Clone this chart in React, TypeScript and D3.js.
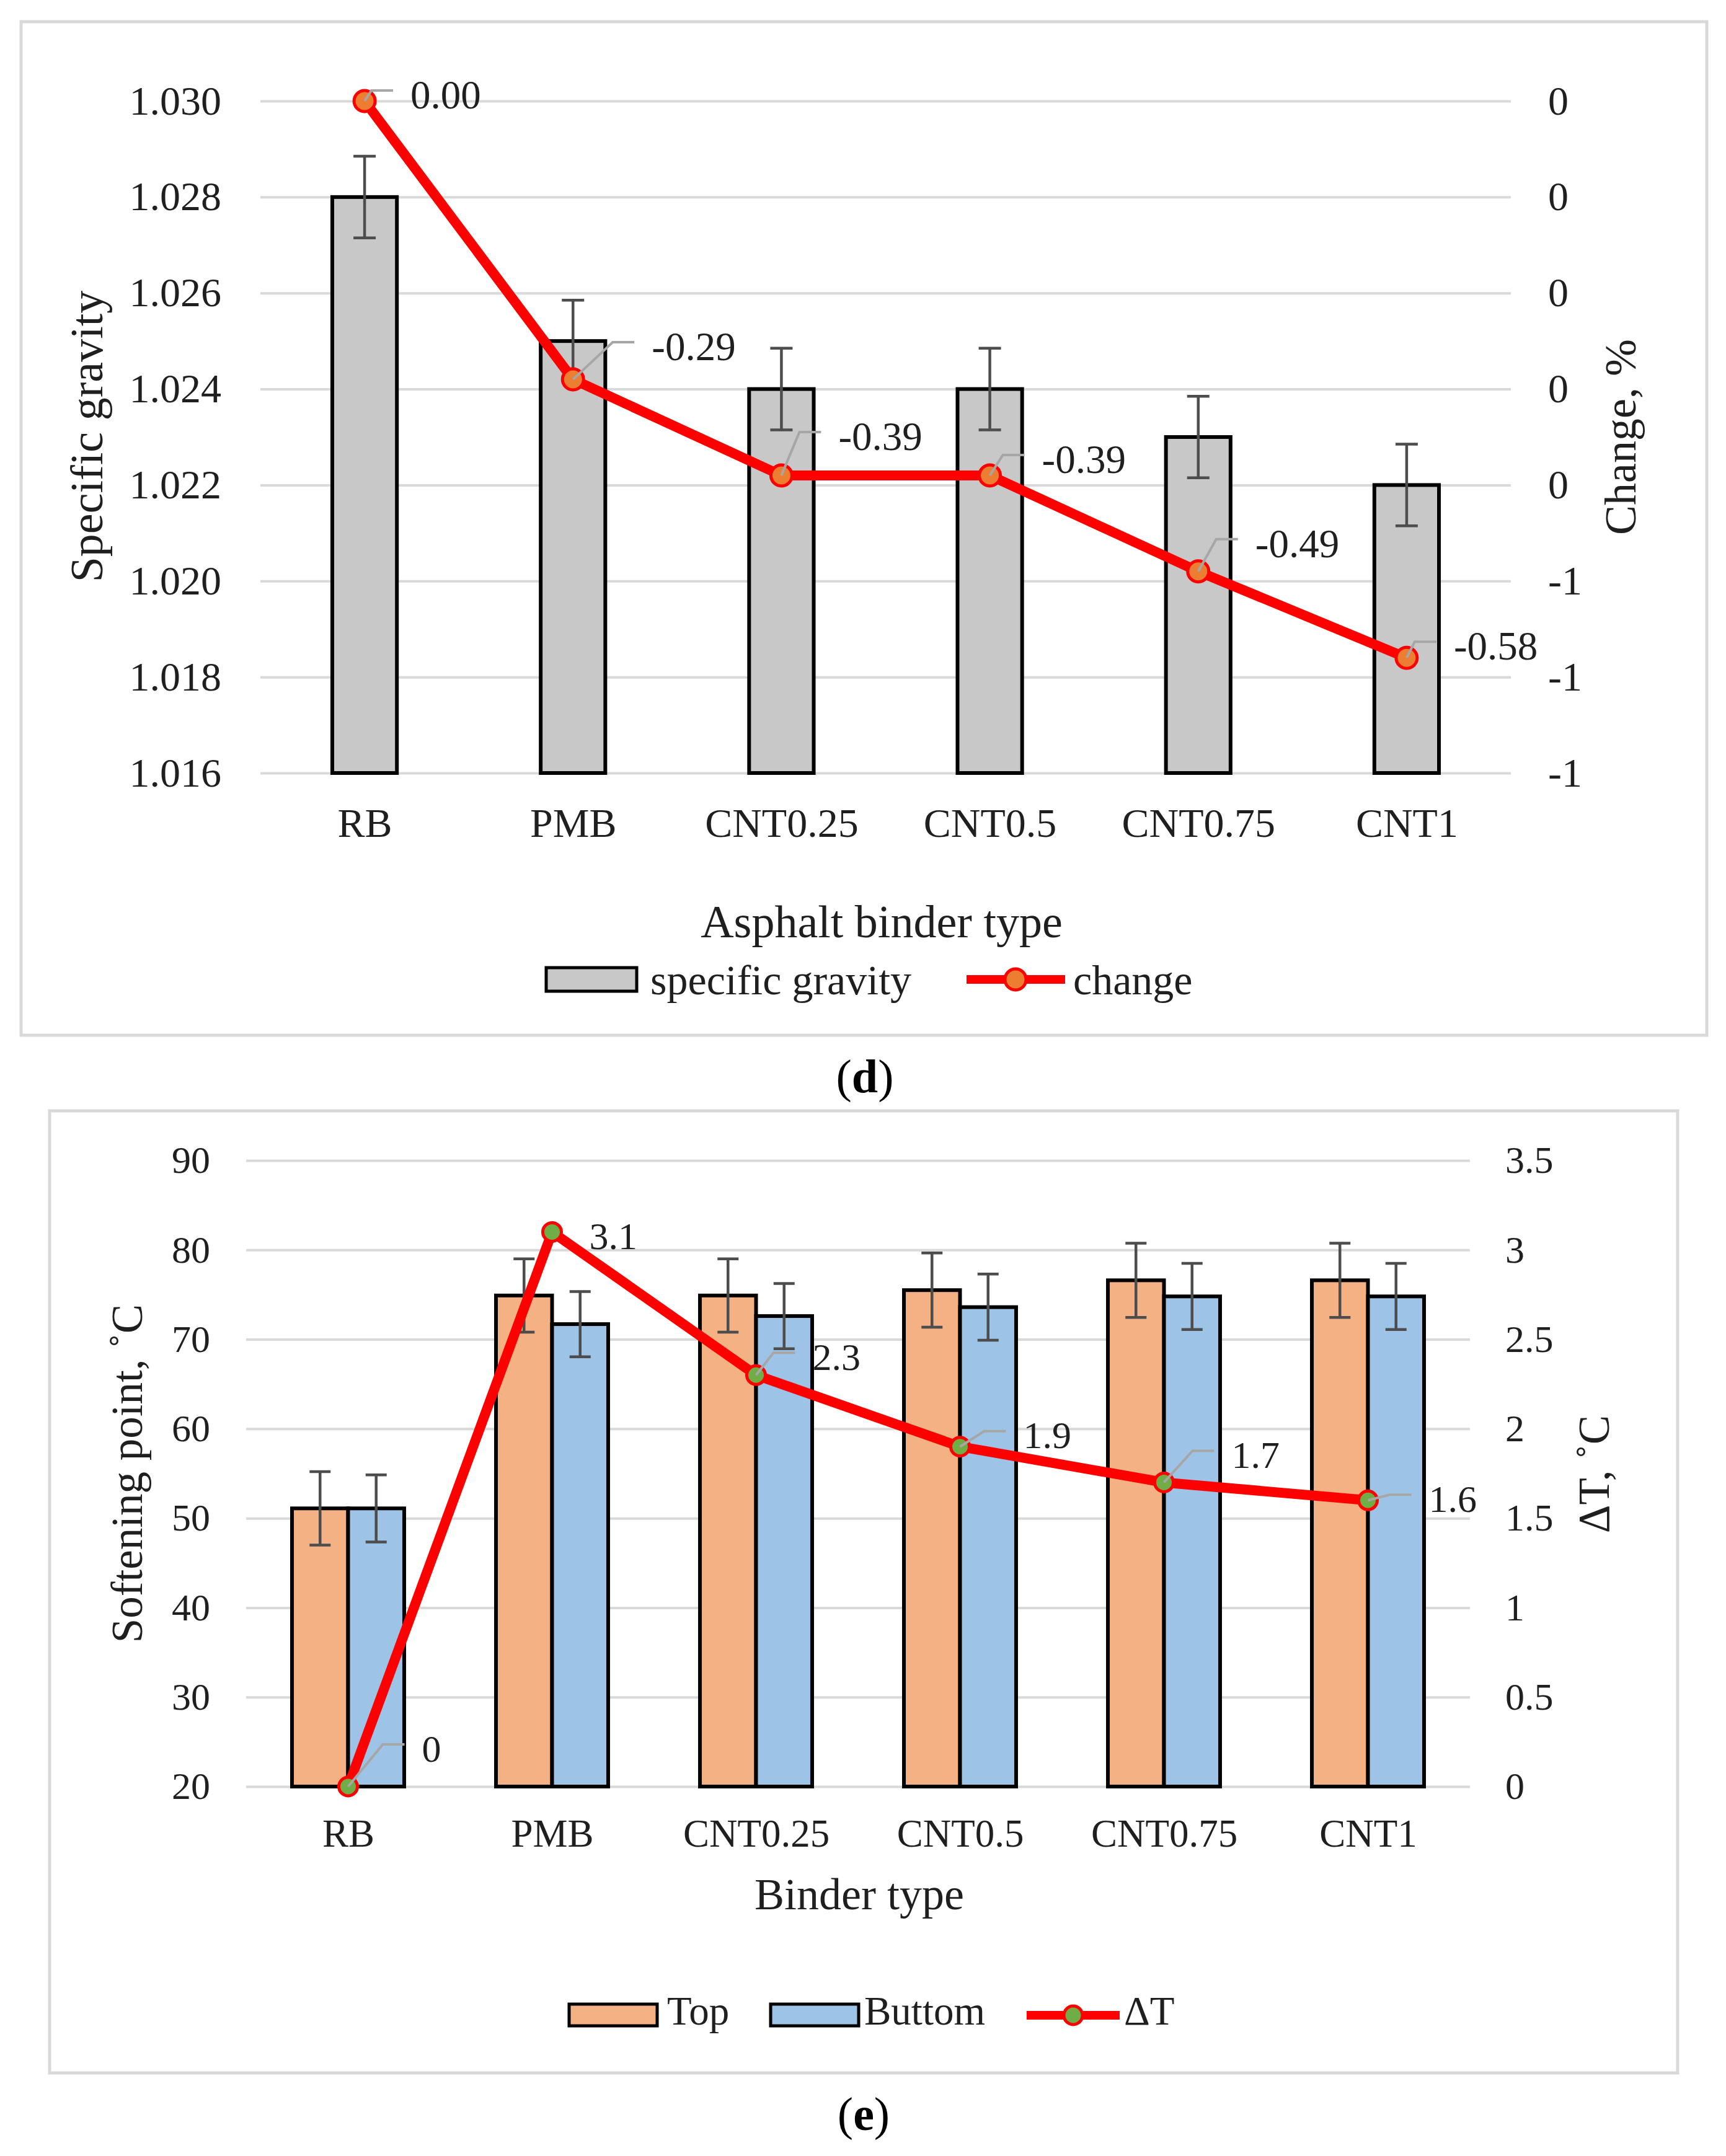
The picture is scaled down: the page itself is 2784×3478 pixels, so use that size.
import * as d3 from "d3";
import { useEffect, useRef } from "react";

// shared categories
const categories = ["RB", "PMB", "CNT0.25", "CNT0.5", "CNT0.75", "CNT1"];

// panel (d): specific gravity + change
const specificGravity = [1.028, 1.025, 1.024, 1.024, 1.023, 1.022];
const specificGravityErr = [0.00085, 0.00085, 0.00085, 0.00085, 0.00085, 0.00085];
const changePct = [0.0, -0.29, -0.39, -0.39, -0.49, -0.58];
const gravityTicks = [1.016, 1.018, 1.02, 1.022, 1.024, 1.026, 1.028, 1.03];
const changeTicks = [-0.7, -0.6, -0.5, -0.4, -0.3, -0.2, -0.1, 0];

// panel (e): softening point top/bottom + deltaT
const softTop = [51.1, 74.9, 74.9, 75.5, 76.6, 76.6];
const softTopErr = [4.1, 4.1, 4.1, 4.15, 4.15, 4.15];
const softBottom = [51.1, 71.7, 72.6, 73.6, 74.8, 74.8];
const softBottomErr = [3.75, 3.65, 3.65, 3.7, 3.7, 3.7];
const deltaT = [0, 3.1, 2.3, 1.9, 1.7, 1.6];
const softTicks = [20, 30, 40, 50, 60, 70, 80, 90];
const deltaTicks = [0, 0.5, 1, 1.5, 2, 2.5, 3, 3.5];

// data label placement (offset from point to label's left / middle)
const changeLabelPos = [[74, -11], [127, -54], [92, -64], [84, -27], [92, -46], [76, -20]];
const deltaLabelPos = [[119, -62], [60, 6], [91, -30], [102, -19], [109, -45], [98, -3]];
const deltaLeader = [true, false, true, true, true, true];

const FONT = "'Liberation Serif', 'Times New Roman', serif";
const INK = "#1f1f1f";
const GRID = "#d9d9d9";
const RED = "#ff0000";

type Sel = d3.Selection<any, any, any, any>;

export const useD3 = (renderChartFn: (svg: Sel) => any, dependencies: any[]) => {
  const ref = useRef<SVGSVGElement>(null);
  useEffect(() => {
    const svg = d3.select(ref.current);
    svg.selectAll("*").remove();
    renderChartFn(svg);
  }, dependencies);
  return ref;
};

function styleAxis(g: Sel, size: number) {
  g.select(".domain").remove();
  g.attr("font-family", FONT).attr("font-size", size);
  g.selectAll("text").attr("fill", INK);
}

function roundLabel(v: number) {
  const r = Math.sign(v) * Math.round(Math.abs(v) + 1e-9);
  return r === 0 ? "0" : String(r);
}

function drawLabels(
  g: Sel,
  pts: [number, number][],
  texts: string[],
  pos: number[][],
  leader: boolean[],
  size: number
) {
  pts.forEach(([px, py], i) => {
    const tx = px + pos[i][0];
    const ty = py + pos[i][1];
    if (leader[i]) {
      const ly = ty - 6;
      g.append("path")
        .attr("d", `M${px},${py}L${tx - 63},${ly}L${tx - 28},${ly}`)
        .attr("fill", "none")
        .attr("stroke", "#a6a6a6")
        .attr("stroke-width", 4);
    }
    g.append("text")
      .attr("x", tx)
      .attr("y", ty)
      .attr("dy", "0.35em")
      .attr("font-family", FONT)
      .attr("font-size", size)
      .attr("fill", INK)
      .text(texts[i]);
  });
}

function drawGravity(root: Sel) {
  const g = root.append("g");
  g.append("rect")
    .attr("x", 34).attr("y", 35).attr("width", 2719).attr("height", 1635)
    .attr("fill", "#fff").attr("stroke", GRID).attr("stroke-width", 5);

  const left = 420, right = 2437, top = 163, bottom = 1247;
  const x = d3.scalePoint().domain(categories).range([left, right]).padding(0.5);
  const yL = d3.scaleLinear().domain([1.016, 1.03]).range([bottom, top]);
  const yR = d3.scaleLinear().domain([-0.7, 0]).range([bottom, top]);

  const grid = g.append("g").attr("transform", `translate(${left},0)`)
    .call(d3.axisLeft(yL).tickValues(gravityTicks).tickSize(-(right - left)).tickFormat(() => ""));
  grid.select(".domain").remove();
  grid.selectAll("line").attr("stroke", GRID).attr("stroke-width", 4);

  const axL = g.append("g").attr("transform", `translate(${left},0)`)
    .call(d3.axisLeft(yL).tickValues(gravityTicks).tickSize(0).tickPadding(63).tickFormat(d3.format(".3f")));
  styleAxis(axL, 66);

  const axR = g.append("g").attr("transform", `translate(${right},0)`)
    .call(d3.axisRight(yR).tickValues(changeTicks).tickSize(0).tickPadding(60).tickFormat((d: any) => roundLabel(+d)));
  styleAxis(axR, 66);

  const axB = g.append("g").attr("transform", `translate(0,${bottom})`)
    .call(d3.axisBottom(x).tickSize(0).tickPadding(103));
  styleAxis(axB, 66);
  axB.selectAll("text").attr("dy", "0");

  // bars
  const bw = x.step() * 0.31;
  g.append("g").selectAll("rect").data(specificGravity).join("rect")
    .attr("x", (d, i) => (x(categories[i]) as number) - bw / 2)
    .attr("y", (d) => yL(d))
    .attr("width", bw)
    .attr("height", (d) => bottom - yL(d))
    .attr("fill", "#c8c8c8").attr("stroke", "#000").attr("stroke-width", 6);

  // error bars
  const eb = g.append("g").attr("stroke", "#4d4d4d").attr("stroke-width", 4.5);
  specificGravity.forEach((v, i) => {
    const cx = x(categories[i]) as number;
    const y1 = yL(v + specificGravityErr[i]), y2 = yL(v - specificGravityErr[i]);
    eb.append("line").attr("x1", cx).attr("x2", cx).attr("y1", y1).attr("y2", y2);
    eb.append("line").attr("x1", cx - 18).attr("x2", cx + 18).attr("y1", y1).attr("y2", y1);
    eb.append("line").attr("x1", cx - 18).attr("x2", cx + 18).attr("y1", y2).attr("y2", y2);
  });

  // change line
  const line = d3.line<number>().x((d, i) => x(categories[i]) as number).y((d) => yR(d));
  g.append("path").datum(changePct).attr("d", line)
    .attr("fill", "none").attr("stroke", RED).attr("stroke-width", 16).attr("stroke-linejoin", "round");
  g.append("g").selectAll("circle").data(changePct).join("circle")
    .attr("cx", (d, i) => x(categories[i]) as number).attr("cy", (d) => yR(d)).attr("r", 17)
    .attr("fill", "#ed7d31").attr("stroke", RED).attr("stroke-width", 5);

  const pts = changePct.map((d, i) => [x(categories[i]) as number, yR(d)] as [number, number]);
  drawLabels(g, pts, changePct.map((d) => d3.format(".2f")(d).replace("−", "-")), changeLabelPos,
    changePct.map(() => true), 65);

  // titles
  g.append("text").attr("transform", "translate(165,704) rotate(-90)")
    .attr("text-anchor", "middle").attr("font-family", FONT).attr("font-size", 74).attr("fill", INK)
    .text("Specific gravity");
  g.append("text").attr("transform", "translate(2638,705) rotate(-90)")
    .attr("text-anchor", "middle").attr("font-family", FONT).attr("font-size", 72).attr("fill", INK)
    .text("Change, %");
  g.append("text").attr("x", 1422).attr("y", 1512)
    .attr("text-anchor", "middle").attr("font-family", FONT).attr("font-size", 74).attr("fill", INK)
    .text("Asphalt binder type");

  // legend
  const lg = g.append("g").attr("font-family", FONT).attr("font-size", 68).attr("fill", INK);
  lg.append("rect").attr("x", 881).attr("y", 1561).attr("width", 146).attr("height", 38)
    .attr("fill", "#c8c8c8").attr("stroke", "#000").attr("stroke-width", 5);
  lg.append("text").attr("x", 1049).attr("y", 1604).text("specific gravity");
  lg.append("line").attr("x1", 1559).attr("x2", 1718).attr("y1", 1580).attr("y2", 1580)
    .attr("stroke", RED).attr("stroke-width", 14);
  lg.append("circle").attr("cx", 1638).attr("cy", 1580).attr("r", 17)
    .attr("fill", "#ed7d31").attr("stroke", RED).attr("stroke-width", 5);
  lg.append("text").attr("x", 1731).attr("y", 1604).text("change");
}

function drawSoftening(root: Sel) {
  const g = root.append("g");
  g.append("rect")
    .attr("x", 80).attr("y", 1792).attr("width", 2626).attr("height", 1552)
    .attr("fill", "#fff").attr("stroke", GRID).attr("stroke-width", 5);

  const left = 397, right = 2371, top = 1872, bottom = 2882;
  const x = d3.scalePoint().domain(categories).range([left, right]).padding(0.5);
  const yL = d3.scaleLinear().domain([20, 90]).range([bottom, top]);
  const yR = d3.scaleLinear().domain([0, 3.5]).range([bottom, top]);

  const grid = g.append("g").attr("transform", `translate(${left},0)`)
    .call(d3.axisLeft(yL).tickValues(softTicks).tickSize(-(right - left)).tickFormat(() => ""));
  grid.select(".domain").remove();
  grid.selectAll("line").attr("stroke", GRID).attr("stroke-width", 4);

  const axL = g.append("g").attr("transform", `translate(${left},0)`)
    .call(d3.axisLeft(yL).tickValues(softTicks).tickSize(0).tickPadding(58).tickFormat(d3.format("d")));
  styleAxis(axL, 62);

  const axR = g.append("g").attr("transform", `translate(${right},0)`)
    .call(d3.axisRight(yR).tickValues(deltaTicks).tickSize(0).tickPadding(57).tickFormat((d: any) => String(d)));
  styleAxis(axR, 62);

  const axB = g.append("g").attr("transform", `translate(0,${bottom})`)
    .call(d3.axisBottom(x).tickSize(0).tickPadding(97));
  styleAxis(axB, 63);
  axB.selectAll("text").attr("dy", "0");

  const bw = x.step() * 0.275;
  const series = [
    { vals: softTop, err: softTopErr, fill: "#f4b183", off: -bw },
    { vals: softBottom, err: softBottomErr, fill: "#9dc3e6", off: 0 },
  ];
  series.forEach((s) => {
    g.append("g").selectAll("rect").data(s.vals).join("rect")
      .attr("x", (d, i) => (x(categories[i]) as number) + s.off)
      .attr("y", (d) => yL(d))
      .attr("width", bw)
      .attr("height", (d) => bottom - yL(d))
      .attr("fill", s.fill).attr("stroke", "#000").attr("stroke-width", 6);
  });
  series.forEach((s) => {
    const eb = g.append("g").attr("stroke", "#4d4d4d").attr("stroke-width", 4.5);
    s.vals.forEach((v, i) => {
      const cx = (x(categories[i]) as number) + s.off + bw / 2;
      const y1 = yL(v + s.err[i]), y2 = yL(v - s.err[i]);
      eb.append("line").attr("x1", cx).attr("x2", cx).attr("y1", y1).attr("y2", y2);
      eb.append("line").attr("x1", cx - 17).attr("x2", cx + 17).attr("y1", y1).attr("y2", y1);
      eb.append("line").attr("x1", cx - 17).attr("x2", cx + 17).attr("y1", y2).attr("y2", y2);
    });
  });

  const line = d3.line<number>().x((d, i) => x(categories[i]) as number).y((d) => yR(d));
  g.append("path").datum(deltaT).attr("d", line)
    .attr("fill", "none").attr("stroke", RED).attr("stroke-width", 16).attr("stroke-linejoin", "round");
  g.append("g").selectAll("circle").data(deltaT).join("circle")
    .attr("cx", (d, i) => x(categories[i]) as number).attr("cy", (d) => yR(d)).attr("r", 15)
    .attr("fill", "#70ad47").attr("stroke", RED).attr("stroke-width", 5);

  const pts = deltaT.map((d, i) => [x(categories[i]) as number, yR(d)] as [number, number]);
  drawLabels(g, pts, deltaT.map((d) => String(d)), deltaLabelPos, deltaLeader, 62);

  g.append("text").attr("transform", "translate(229,2377) rotate(-90)")
    .attr("text-anchor", "middle").attr("font-family", FONT).attr("font-size", 71).attr("fill", INK)
    .text("Softening point, ˚C");
  g.append("text").attr("transform", "translate(2595,2378) rotate(-90)")
    .attr("text-anchor", "middle").attr("font-family", FONT).attr("font-size", 71).attr("fill", INK)
    .text("ΔT, ˚C");
  g.append("text").attr("x", 1386).attr("y", 3080)
    .attr("text-anchor", "middle").attr("font-family", FONT).attr("font-size", 72).attr("fill", INK)
    .text("Binder type");

  const lg = g.append("g").attr("font-family", FONT).attr("font-size", 65).attr("fill", INK);
  lg.append("rect").attr("x", 918).attr("y", 3233).attr("width", 142).attr("height", 35)
    .attr("fill", "#f4b183").attr("stroke", "#000").attr("stroke-width", 5);
  lg.append("text").attr("x", 1076).attr("y", 3266).text("Top");
  lg.append("rect").attr("x", 1243).attr("y", 3233).attr("width", 142).attr("height", 35)
    .attr("fill", "#9dc3e6").attr("stroke", "#000").attr("stroke-width", 5);
  lg.append("text").attr("x", 1394).attr("y", 3266).text("Buttom");
  lg.append("line").attr("x1", 1656).attr("x2", 1806).attr("y1", 3251).attr("y2", 3251)
    .attr("stroke", RED).attr("stroke-width", 14);
  lg.append("circle").attr("cx", 1731).attr("cy", 3251).attr("r", 15)
    .attr("fill", "#70ad47").attr("stroke", RED).attr("stroke-width", 5);
  lg.append("text").attr("x", 1813).attr("y", 3266).text("ΔT");
}

function drawCaption(root: Sel, letter: string, cx: number, y: number) {
  const t = root.append("text").attr("x", cx).attr("y", y).attr("text-anchor", "middle")
    .attr("font-family", FONT).attr("font-size", 76).attr("fill", "#000");
  t.append("tspan").text("(");
  t.append("tspan").attr("font-weight", "bold").text(letter);
  t.append("tspan").text(")");
}

export default function App() {
  const ref = useD3((svg) => {
    svg.append("rect").attr("width", 2784).attr("height", 3478).attr("fill", "#fff");
    drawGravity(svg);
    drawCaption(svg, "d", 1395, 1762);
    drawSoftening(svg);
    drawCaption(svg, "e", 1393, 3436);
  }, []);

  return (
    <>
      <style>{`body{margin:0;overflow:hidden;background:#fff}`}</style>
      <svg
        ref={ref}
        width={2784}
        height={3478}
        viewBox="0 0 2784 3478"
        style={{ display: "block" }}
      />
    </>
  );
}
